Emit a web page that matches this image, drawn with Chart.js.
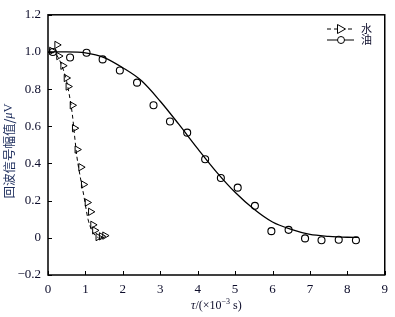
<!DOCTYPE html>
<html><head><meta charset="utf-8">
<script src="https://cdn.jsdelivr.net/npm/chart.js@4.4.1/dist/chart.umd.min.js"></script>
<style>html,body{margin:0;padding:0;background:#fff}#wrap{width:395px;height:317px;position:relative}</style>
</head><body><div id="wrap"><canvas id="c" width="395" height="317"></canvas></div>
<script>
// ---- data ----
const waterX = [0.10,0.24,0.29,0.40,0.49,0.54,0.65,0.71,0.78,0.88,0.95,1.05,1.14,1.20,1.25,1.34,1.43,1.52];
const waterY = [1.006,1.038,0.978,0.926,0.86,0.814,0.713,0.59,0.475,0.38,0.287,0.19,0.14,0.07,0.04,0.004,0.008,0.012];
const oilX = [0.13,0.59,1.03,1.46,1.92,2.38,2.82,3.26,3.72,4.20,4.62,5.07,5.53,5.97,6.43,6.87,7.31,7.77,8.23];
const oilY = [1.0,0.97,0.996,0.96,0.90,0.835,0.713,0.626,0.566,0.423,0.322,0.27,0.172,0.036,0.043,-0.003,-0.013,-0.01,-0.013];
const waterFitX = [0.05,0.2,0.3,0.4,0.5,0.56,0.65,0.71,0.77,0.86,0.95,1.07,1.15,1.25,1.35];
const waterFitY = [1.0,0.99,0.96,0.91,0.84,0.78,0.665,0.55,0.44,0.33,0.235,0.10,0.05,0.015,0.0];
const oilFitX = [0,0.5,1,1.5,2,2.5,3,3.5,4,4.5,5,5.5,6,6.5,7,7.5,8,8.3];
const oilFitY = [1.0,1.0,0.995,0.97,0.915,0.845,0.735,0.61,0.48,0.355,0.245,0.155,0.085,0.045,0.018,0.008,0.003,0.002];
const xTicks = [0,1,2,3,4,5,6,7,8,9];
const yTicks = [-0.2,0,0.2,0.4,0.6,0.8,1.0,1.2];
const seriesNames = ['水','油'];
const yTitle = '回波信号幅值/';
const xTitle = 'τ/(×10⁻³ s)';

const pts = (xs, ys) => xs.map((x,i)=>({x, y: ys[i]}));
const ink = '#0d0d2b';
const serif = '"Liberation Serif", "Times New Roman", serif';

const frame = {
  id: 'frame',
  afterDraw(chart) {
    const {ctx, chartArea: a, scales} = chart;
    ctx.save();
    ctx.strokeStyle = '#000';
    ctx.lineWidth = 1.5;
    ctx.strokeRect(a.left, a.top, a.right - a.left, a.bottom - a.top);
    ctx.lineWidth = 1;
    // inward ticks
    xTicks.forEach(t => {
      const px = Math.round(scales.x.getPixelForValue(t)) + 0.5;
      ctx.beginPath(); ctx.moveTo(px, a.bottom); ctx.lineTo(px, a.bottom - 4); ctx.stroke();
    });
    yTicks.forEach(t => {
      const py = Math.round(scales.y.getPixelForValue(t)) + 0.5;
      ctx.beginPath(); ctx.moveTo(a.left, py); ctx.lineTo(a.left + 4, py); ctx.stroke();
    });
    // x title
    ctx.fillStyle = ink;
    ctx.textBaseline = 'alphabetic';
    const cx = (a.left + a.right) / 2;
    const yb = 309;
    const parts = [
      {t: 'τ', f: 'italic 12px ' + serif, dy: 0},
      {t: '/(×10', f: '12px ' + serif, dy: 0},
      {t: '−3', f: '8px ' + serif, dy: -5},
      {t: ' s)', f: '12px ' + serif, dy: 0},
    ];
    let w = 0;
    parts.forEach(p => { ctx.font = p.f; p.w = ctx.measureText(p.t).width; w += p.w; });
    let x0 = cx - w / 2;
    ctx.textAlign = 'left';
    parts.forEach(p => { ctx.font = p.f; ctx.fillText(p.t, x0, yb + p.dy); x0 += p.w; });
    // y title (rotated)
    ctx.save();
    ctx.translate(9, 151);
    ctx.rotate(-Math.PI / 2);
    const yparts = [
      {t: yTitle, f: '12.5px "Noto Sans CJK SC", sans-serif'},
      {t: 'μ', f: 'italic 12.5px ' + serif},
      {t: 'V', f: '12.5px ' + serif},
    ];
    let yw = 0;
    yparts.forEach(p => { ctx.font = p.f; p.w = ctx.measureText(p.t).width; yw += p.w; });
    let y0 = -yw / 2;
    ctx.fillStyle = '#1c2c5c';
    ctx.textBaseline = 'middle';
    yparts.forEach(p => { ctx.font = p.f; ctx.fillText(p.t, y0, 0); y0 += p.w; });
    ctx.restore();
    // legend
    const lx0 = 327, lx1 = 354, mx = 341;
    const rows = [29, 40];
    ctx.strokeStyle = '#000';
    ctx.lineWidth = 1;
    ctx.setLineDash([4, 3]);
    ctx.beginPath(); ctx.moveTo(lx0, rows[0]); ctx.lineTo(lx1, rows[0]); ctx.stroke();
    ctx.setLineDash([]);
    ctx.fillStyle = '#fff';
    ctx.beginPath(); ctx.moveTo(mx - 3.5, rows[0] - 4.5); ctx.lineTo(mx + 4.5, rows[0]); ctx.lineTo(mx - 3.5, rows[0] + 4.5); ctx.closePath(); ctx.fill(); ctx.stroke();
    ctx.beginPath(); ctx.moveTo(lx0, rows[1]); ctx.lineTo(lx1, rows[1]); ctx.stroke();
    ctx.beginPath(); ctx.arc(mx, rows[1], 3.5, 0, Math.PI * 2); ctx.fill(); ctx.stroke();
    ctx.fillStyle = ink;
    ctx.font = '11px "Noto Sans CJK SC", sans-serif';
    ctx.textAlign = 'left'; ctx.textBaseline = 'middle';
    ctx.fillText(seriesNames[0], 361, rows[0]);
    ctx.fillText(seriesNames[1], 361, rows[1]);
    ctx.restore();
  }
};

new Chart(document.getElementById('c'), {
  type: 'scatter',
  data: {
    datasets: [
      {label: seriesNames[1] + ' fit', data: pts(oilFitX, oilFitY), showLine: true, borderColor: '#000', borderWidth: 1.3, pointRadius: 0, cubicInterpolationMode: 'monotone', fill: false},
      {label: seriesNames[0] + ' fit', data: pts(waterFitX, waterFitY), showLine: true, borderColor: '#000', borderWidth: 1, borderDash: [4, 3], pointRadius: 0, cubicInterpolationMode: 'monotone', fill: false},
      {label: seriesNames[1], data: pts(oilX, oilY), pointStyle: 'circle', pointRadius: 3.5, pointBackgroundColor: 'rgba(255,255,255,0)', pointBorderColor: '#000', pointBorderWidth: 1.1, showLine: false},
      {label: seriesNames[0], data: pts(waterX, waterY), pointStyle: 'triangle', rotation: 90, pointRadius: 4.2, pointBackgroundColor: 'rgba(255,255,255,0)', pointBorderColor: '#000', pointBorderWidth: 1, showLine: false},
    ]
  },
  options: {
    responsive: false,
    animation: false,
    events: [],
    layout: {padding: {left: 0, top: 10, right: 8, bottom: 0}},
    plugins: {legend: {display: false}, tooltip: {enabled: false}},
    scales: {
      x: {
        type: 'linear', min: 0, max: 9,
        afterBuildTicks: s => { s.ticks = xTicks.map(v => ({value: v})); },
        afterFit: s => { s.height = 42; },
        grid: {display: false, drawTicks: false},
        border: {display: false},
        ticks: {color: ink, font: {family: serif, size: 13}, padding: 7, maxRotation: 0, callback: v => String(v)}
      },
      y: {
        type: 'linear', min: -0.2, max: 1.2,
        afterBuildTicks: s => { s.ticks = yTicks.map(v => ({value: v})); },
        afterFit: s => { s.width = 48; },
        grid: {display: false, drawTicks: false},
        border: {display: false},
        ticks: {color: ink, font: {family: serif, size: 13}, padding: 7,
          callback: v => { const r = Math.round(v * 10) / 10; return r === 0 ? '0' : (r < 0 ? '−' + Math.abs(r).toFixed(1) : r.toFixed(1)); }}
      }
    }
  },
  plugins: [frame]
});
</script>
</body></html>
